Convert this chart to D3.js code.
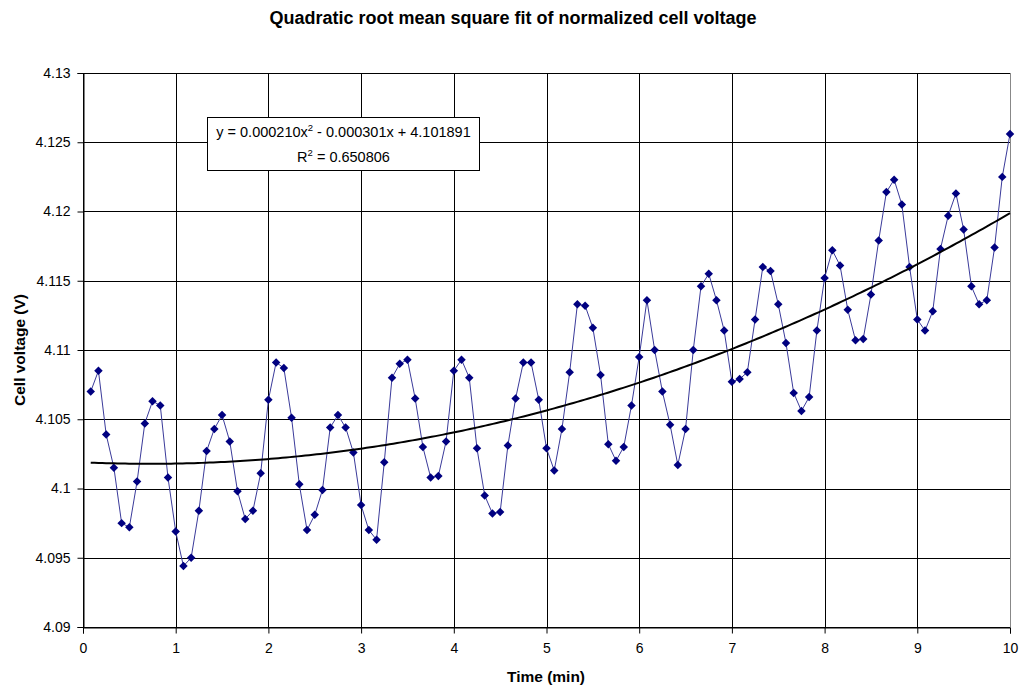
<!DOCTYPE html>
<html>
<head>
<meta charset="utf-8">
<script src="https://cdn.jsdelivr.net/npm/d3@7"></script>
<style>
  html, body { margin: 0; padding: 0; background: #fff; }
  svg { display: block; }
  text { font-family: "Liberation Sans", Arial, sans-serif; fill: #000; }
</style>
</head>
<body>
<svg id="chart" width="1020" height="688"></svg>
<script>
// Sample times (min), one reading every 5 s
const times = d3.range(1, 121).map(k => k / 12);

// Normalized cell voltage readings (V)
const voltage = [
  4.1070, 4.1085, 4.1039, 4.1015, 4.0975, 4.0972, 4.1005, 4.1047, 4.1063, 4.1060,
  4.1008, 4.0969, 4.0944, 4.0950, 4.0984, 4.1027, 4.1043, 4.1053, 4.1034, 4.0998,
  4.0978, 4.0984, 4.1011, 4.1064, 4.1091, 4.1087, 4.1051, 4.1003, 4.0970, 4.0981,
  4.0999, 4.1044, 4.1053, 4.1044, 4.1026, 4.0988, 4.0970, 4.0963, 4.1019, 4.1080,
  4.1090, 4.1093, 4.1065, 4.1030, 4.1008, 4.1009, 4.1034, 4.1085, 4.1093, 4.1080,
  4.1029, 4.0995, 4.0982, 4.0983, 4.1031, 4.1065, 4.1091, 4.1091, 4.1064, 4.1029,
  4.1013, 4.1043, 4.1084, 4.1133, 4.1132, 4.1116, 4.1082, 4.1032, 4.1020, 4.1030,
  4.1060, 4.1095, 4.1136, 4.1100, 4.1070, 4.1046, 4.1017, 4.1043, 4.1100, 4.1146,
  4.1155, 4.1136, 4.1114, 4.1077, 4.1079, 4.1084, 4.1122, 4.1160, 4.1157, 4.1133,
  4.1105, 4.1069, 4.1056, 4.1066, 4.1114, 4.1152, 4.1172, 4.1161, 4.1129, 4.1107,
  4.1108, 4.1140, 4.1179, 4.1214, 4.1223, 4.1205, 4.1160, 4.1122, 4.1114, 4.1128,
  4.1173, 4.1197, 4.1213, 4.1187, 4.1146, 4.1133, 4.1136, 4.1174, 4.1225, 4.1256
];

// Quadratic trendline coefficients [a, b, c] for y = a x^2 + b x + c
const fitCoeffs = [0.000210, -0.000301, 4.101891];
const fitLabel = ["y = 0.000210x", "2", " - 0.000301x + 4.101891"];
const r2Label = ["R", "2", " = 0.650806"];

// Axis ticks
const xTicks = [0, 1, 2, 3, 4, 5, 6, 7, 8, 9, 10];
const yTicks = [4.09, 4.095, 4.1, 4.105, 4.11, 4.115, 4.12, 4.125, 4.13];
const yTickLabels = ["4.09", "4.095", "4.1", "4.105", "4.11", "4.115", "4.12", "4.125", "4.13"];

const titleText = "Quadratic root mean square fit of normalized cell voltage";
const xTitle = "Time (min)";
const yTitle = "Cell voltage (V)";

const svg = d3.select("#chart");
const plot = { left: 83, right: 1010, top: 73, bottom: 627 };

const x = d3.scaleLinear().domain([0, 10]).range([plot.left, plot.right]);
const y = d3.scaleLinear().domain([4.09, 4.13]).range([plot.bottom, plot.top]);

// Gridlines
const grid = svg.append("g");
grid.selectAll("line.h").data(yTicks).join("line")
  .attr("x1", plot.left).attr("x2", plot.right)
  .attr("y1", d => Math.round(y(d)) + 0.5).attr("y2", d => Math.round(y(d)) + 0.5)
  .attr("stroke", "#000").attr("stroke-width", 1);
grid.selectAll("line.v").data(xTicks).join("line")
  .attr("y1", plot.top).attr("y2", plot.bottom)
  .attr("x1", d => Math.round(x(d)) + 0.5).attr("x2", d => Math.round(x(d)) + 0.5)
  .attr("stroke", d => d === 10 ? "#888" : "#000").attr("stroke-width", 1);

// Axes
const yAxis = d3.axisLeft(y).tickValues(yTicks)
  .tickFormat((d, i) => yTickLabels[i]).tickSize(6).tickPadding(7);
const xAxis = d3.axisBottom(x).tickValues(xTicks).tickSize(6).tickPadding(10);

const gy = svg.append("g").attr("transform", `translate(${plot.left + 0.5},0)`).call(yAxis);
const gx = svg.append("g").attr("transform", `translate(0,${plot.bottom + 0.5})`).call(xAxis);
[gy, gx].forEach(g => {
  g.select(".domain").attr("stroke", "#000");
  g.selectAll(".tick line").attr("stroke", "#000");
  g.selectAll(".tick text").attr("font-size", 14)
    .attr("font-family", "Liberation Sans, Arial, sans-serif").attr("fill", "#000");
});

// Data series: line plus diamond markers
const pts = times.map((t, i) => [t, voltage[i]]);
svg.append("path")
  .datum(pts)
  .attr("fill", "none")
  .attr("stroke", "#3a3a9a")
  .attr("stroke-width", 1)
  .attr("d", d3.line().x(d => x(d[0])).y(d => y(d[1])));

const diamond = d3.symbol().type(d3.symbolDiamond2).size(46);
svg.append("g").selectAll("path").data(pts).join("path")
  .attr("transform", d => `translate(${x(d[0])},${y(d[1])})`)
  .attr("d", diamond)
  .attr("fill", "#000080");

// Quadratic trendline over the sampled range
const fit = t => fitCoeffs[0] * t * t + fitCoeffs[1] * t + fitCoeffs[2];
const fitPts = d3.range(0, 241).map(i => {
  const t = times[0] + (times[times.length - 1] - times[0]) * i / 240;
  return [t, fit(t)];
});
svg.append("path")
  .datum(fitPts)
  .attr("fill", "none")
  .attr("stroke", "#000")
  .attr("stroke-width", 2)
  .attr("d", d3.line().x(d => x(d[0])).y(d => y(d[1])));

// Trendline equation box
const box = svg.append("g");
box.append("rect")
  .attr("x", 207.5).attr("y", 117.5).attr("width", 272).attr("height", 53)
  .attr("fill", "#fff").attr("stroke", "#000").attr("stroke-width", 1);
function supText(parts, cx, cy) {
  const t = box.append("text").attr("x", cx).attr("y", cy)
    .attr("text-anchor", "middle").attr("font-size", 14.5);
  t.append("tspan").text(parts[0]);
  t.append("tspan").attr("dy", -6).attr("font-size", 9.5).text(parts[1]);
  t.append("tspan").attr("dy", 6).text(parts[2]);
}
supText(fitLabel, 343.5, 137);
supText(r2Label, 343.5, 162);

// Titles
svg.append("text").attr("x", 513).attr("y", 24)
  .attr("text-anchor", "middle").attr("font-size", 18).attr("font-weight", "bold")
  .text(titleText);
svg.append("text").attr("x", 546).attr("y", 682)
  .attr("text-anchor", "middle").attr("font-size", 15.5).attr("font-weight", "bold")
  .text(xTitle);
svg.append("text")
  .attr("transform", "translate(25,350) rotate(-90)")
  .attr("text-anchor", "middle").attr("font-size", 15.5).attr("font-weight", "bold")
  .text(yTitle);
</script>
</body>
</html>
